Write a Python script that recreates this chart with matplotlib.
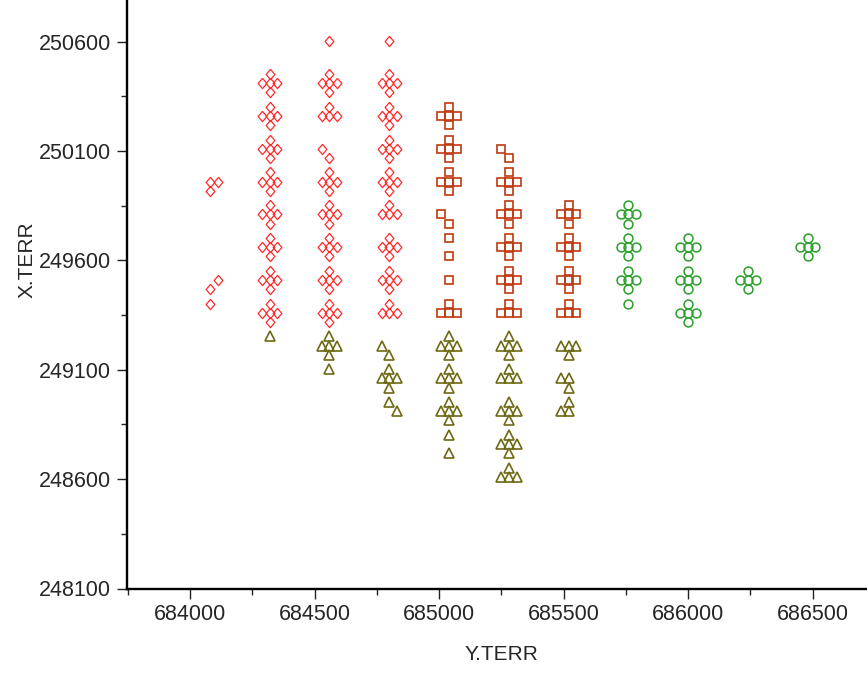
import numpy as np
import matplotlib
matplotlib.use('Agg')
from matplotlib import rcParams
rcParams['font.family'] = ['Liberation Sans', 'DejaVu Sans']
import matplotlib.pyplot as plt
from matplotlib.ticker import MultipleLocator

# sampling nodes: column (Y.TERR), row (X.TERR), and which points of the
# plus-shaped cluster around the node were sampled (C centre, N S E W)
diamond_cx = [684080, 684080, 684080] + [684320] * 8 + [684560] * 9 + [684800] * 9
diamond_cy = [249960, 249510, 249360,
              250410, 250260, 250110, 249960, 249810, 249660, 249510, 249360,
              250560, 250410, 250260, 250110, 249960, 249810, 249660, 249510, 249360,
              250560, 250410, 250260, 250110, 249960, 249810, 249660, 249510, 249360]
diamond_pat = ['CES', 'ES', 'N',
               'CNSEW', 'CNSEW', 'CNSEW', 'CNSEW', 'CNSEW', 'CNSEW', 'CNSEW', 'CNSEW',
               'N', 'CNSEW', 'NWCE', 'WS', 'CNSEW', 'CNSEW', 'CNSEW', 'CNSEW', 'CNSEW',
               'N', 'CNSEW', 'CNSEW', 'CNSEW', 'CNSEW', 'NWCE', 'CNSEW', 'CNSEW', 'NWCE']

square_cx = [685040] * 7 + [685280] * 6 + [685520] * 4
square_cy = [250260, 250110, 249960, 249810, 249660, 249510, 249360,
             250110, 249960, 249810, 249660, 249510, 249360,
             249810, 249660, 249510, 249360]
square_pat = ['CNSEW', 'CNSEW', 'CNSEW', 'WS', 'NS', 'C', 'NWCE',
              'WS', 'CNSEW', 'CNSEW', 'CNSEW', 'CNSEW', 'NWCE',
              'CNSEW', 'CNSEW', 'CNSEW', 'NWCE']

triangle_cx = [684320, 684560, 684560, 684800, 684800, 684800,
               685040, 685040, 685040, 685040,
               685280, 685280, 685280, 685280, 685280,
               685520, 685520, 685520]
triangle_cy = [249210, 249210, 249060, 249210, 249060, 248910,
               249210, 249060, 248910, 248760,
               249210, 249060, 248910, 248760, 248610,
               249210, 249060, 248910]
triangle_pat = ['N', 'CNSEW', 'N', 'WS', 'CNSEW', 'NE',
                'CNSEW', 'CNSEW', 'CNSEW', 'NS',
                'CNSEW', 'NWCE', 'CNSEW', 'CNSEW', 'NWCE',
                'WCES', 'WCS', 'NWC']

circle_cx = [685760] * 4 + [686000] * 3 + [686240, 686480]
circle_cy = [249810, 249660, 249510, 249360,
             249660, 249510, 249360,
             249510, 249660]
circle_pat = ['CNSEW', 'CNSEW', 'CNSEW', 'N',
              'CNSEW', 'CNSEW', 'CNSEW',
              'CNSEW', 'CNSEW']

# spacing of the satellite points around a node
DX, DY = 31, 42
STEP = {'C': (0, 0), 'N': (0, 1), 'S': (0, -1), 'E': (1, 0), 'W': (-1, 0)}


def expand(cx, cy, pat):
    xs, ys = [], []
    for x, y, p in zip(cx, cy, pat):
        for c in p:
            ox, oy = STEP[c]
            xs.append(x + ox * DX)
            ys.append(y + oy * DY)
    return np.array(xs), np.array(ys)


diamond = [(0, 1), (0.85, 0), (0, -1), (-0.85, 0), (0, 1)]

fig = plt.figure(figsize=(8.67, 6.73), dpi=100)
ax = fig.add_axes([126.5 / 867, 84.5 / 673, 1 - 126.5 / 867, 1 - 84.5 / 673])

groups = [
    (diamond_cx, diamond_cy, diamond_pat, diamond, 7.4, '#ff2a2a', 0.9),
    (square_cx, square_cy, square_pat, 's', 5.8, '#c0380e', 1.2),
    (triangle_cx, triangle_cy, triangle_pat, '^', 6.5, '#6e6a14', 1.2),
    (circle_cx, circle_cy, circle_pat, 'o', 6.4, '#2aa02a', 1.1),
]
for cx, cy, pat, m, ms, col, mew in groups:
    xs, ys = expand(cx, cy, pat)
    ax.plot(xs, ys, linestyle='none', marker=m, markersize=ms,
            markerfacecolor='none', markeredgecolor=col, markeredgewidth=mew)

ax.set_xlim(683745, 686718)
ax.set_ylim(248100, 250790)
ax.xaxis.set_major_locator(MultipleLocator(500))
ax.xaxis.set_minor_locator(MultipleLocator(250))
ax.yaxis.set_major_locator(MultipleLocator(500, offset=100))
ax.yaxis.set_minor_locator(MultipleLocator(250, offset=100))
ax.ticklabel_format(useOffset=False, style='plain')

for side in ['top', 'right']:
    ax.spines[side].set_visible(False)
for side in ['left', 'bottom']:
    ax.spines[side].set_linewidth(1.7)
    ax.spines[side].set_color('black')

ax.tick_params(which='major', length=7, width=1.0, color='#222222',
               labelsize=15.5, labelcolor='#262626', pad=4)
ax.tick_params(which='minor', length=4, width=1.0, color='#222222')

ax.set_xlabel('Y.TERR', fontsize=15, color='#262626')
ax.set_ylabel('X.TERR', fontsize=15, color='#262626')
ax.xaxis.set_label_coords(0.5057, -0.096)
ax.yaxis.set_label_coords(-0.122, 0.558)

plt.savefig('out.png', dpi=100)
